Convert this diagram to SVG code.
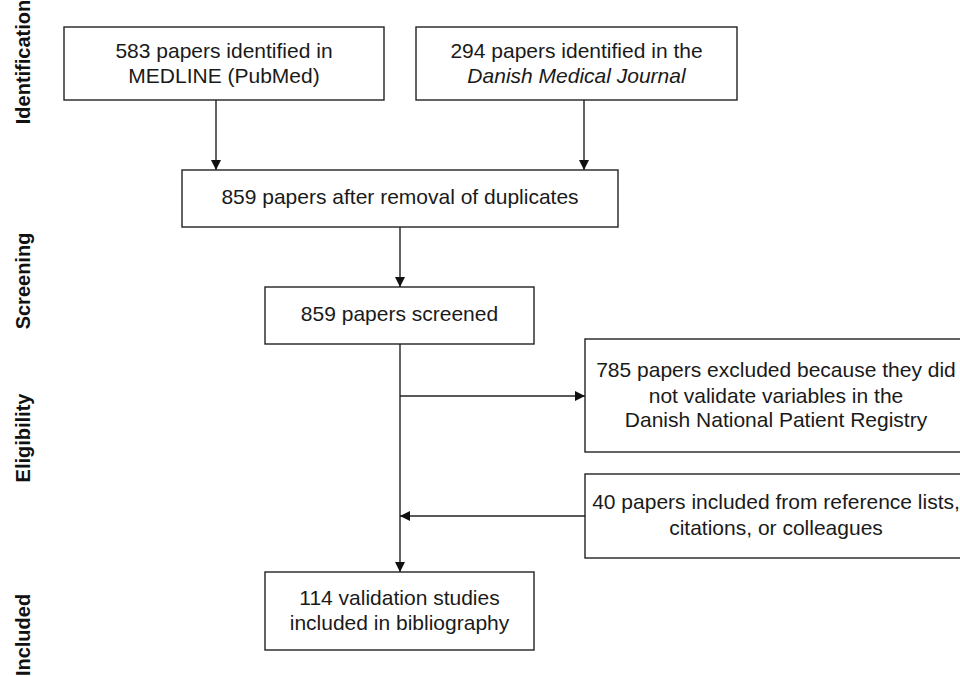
<svg xmlns="http://www.w3.org/2000/svg" width="960" height="677" viewBox="0 0 960 677">
<defs>
<style>
.box{fill:#fff;stroke:#222;stroke-width:1.4}
.t{font-family:"Liberation Sans",Arial,sans-serif;font-size:21px;fill:#1a1a1a;text-anchor:middle}
.side{font-family:"Liberation Sans",Arial,sans-serif;font-size:20px;font-weight:bold;fill:#111;text-anchor:middle}
.c{fill:none;stroke:#222;stroke-width:1.4}
</style>
<marker id="ah" viewBox="0 0 10 10" refX="10" refY="5" markerWidth="10" markerHeight="10" markerUnits="userSpaceOnUse" orient="auto">
<path d="M0,0 L10,5 L0,10 Z" fill="#111"/>
</marker>
</defs>
<rect width="960" height="677" fill="#fff"/>
<g id="labels">
<text class="side" transform="translate(30,62) rotate(-90)">Identification</text>
<text class="side" transform="translate(30,281) rotate(-90)">Screening</text>
<text class="side" transform="translate(30,438) rotate(-90)">Eligibility</text>
<text class="side" transform="translate(30,635) rotate(-90)">Included</text>
</g>
<g id="connectors">
<line class="c" x1="216" y1="100" x2="216" y2="170" marker-end="url(#ah)"/>
<line class="c" x1="584" y1="100" x2="584" y2="170" marker-end="url(#ah)"/>
<line class="c" x1="400" y1="227" x2="400" y2="287" marker-end="url(#ah)"/>
<line class="c" x1="400" y1="344" x2="400" y2="572" marker-end="url(#ah)"/>
<line class="c" x1="400" y1="396" x2="585" y2="396" marker-end="url(#ah)"/>
<line class="c" x1="585" y1="516" x2="400" y2="516" marker-end="url(#ah)"/>
</g>
<g id="n1">
<rect class="box" x="64" y="27" width="320" height="73"/>
<text class="t" x="224" y="58">583 papers identified in</text>
<text class="t" x="224" y="83">MEDLINE (PubMed)</text>
</g>
<g id="n2">
<rect class="box" x="416" y="27" width="321" height="73"/>
<text class="t" x="576.5" y="58">294 papers identified in the</text>
<text class="t" x="576.5" y="83" font-style="italic">Danish Medical Journal</text>
</g>
<g id="n3">
<rect class="box" x="182" y="170" width="436" height="57"/>
<text class="t" x="400" y="204">859 papers after removal of duplicates</text>
</g>
<g id="n4">
<rect class="box" x="265" y="287" width="269" height="57"/>
<text class="t" x="399.5" y="321">859 papers screened</text>
</g>
<g id="n5">
<rect class="box" x="585" y="339" width="382" height="113"/>
<text class="t" x="776" y="377">785 papers excluded because they did</text>
<text class="t" x="776" y="403">not validate variables in the</text>
<text class="t" x="776" y="427">Danish National Patient Registry</text>
</g>
<g id="n6">
<rect class="box" x="585" y="474" width="382" height="84"/>
<text class="t" x="776" y="509">40 papers included from reference lists,</text>
<text class="t" x="776" y="535">citations, or colleagues</text>
</g>
<g id="n7">
<rect class="box" x="265" y="572" width="269" height="78"/>
<text class="t" x="399.5" y="605">114 validation studies</text>
<text class="t" x="399.5" y="630">included in bibliography</text>
</g>
</svg>
